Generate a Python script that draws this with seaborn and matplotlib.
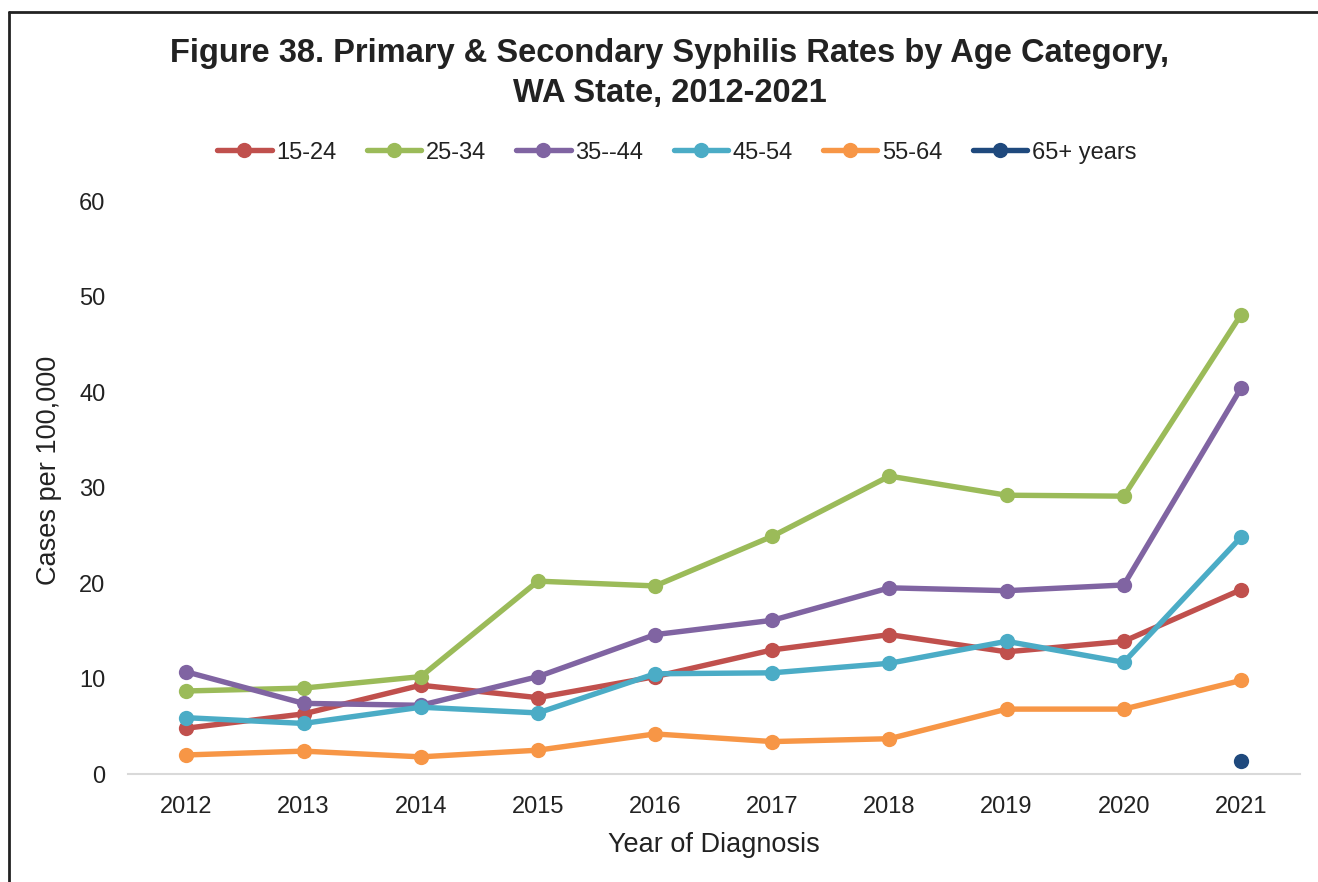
import pandas as pd
import numpy as np
import matplotlib.pyplot as plt
import matplotlib.lines as mlines
import seaborn as sns

# Dados (taxas por 100.000)
anos = [2012, 2013, 2014, 2015, 2016, 2017, 2018, 2019, 2020, 2021]
idade_15_24 = [4.8, 6.3, 9.3, 8.0, 10.2, 13.0, 14.6, 12.8, 13.9, 19.3]
idade_25_34 = [8.7, 9.0, 10.2, 20.2, 19.7, 24.9, 31.2, 29.2, 29.1, 48.1]
idade_35_44 = [10.7, 7.4, 7.2, 10.2, 14.6, 16.1, 19.5, 19.2, 19.8, 40.4]
idade_45_54 = [5.9, 5.3, 7.0, 6.4, 10.5, 10.6, 11.6, 13.9, 11.7, 24.8]
idade_55_64 = [2.0, 2.4, 1.8, 2.5, 4.2, 3.4, 3.7, 6.8, 6.8, 9.8]
idade_65_mais = [None, None, None, None, None, None, None, None, None, 1.4]

series = {
    "15-24": idade_15_24,
    "25-34": idade_25_34,
    "35--44": idade_35_44,
    "45-54": idade_45_54,
    "55-64": idade_55_64,
    "65+ years": idade_65_mais,
}
cores = ["#C0504D", "#9BBB59", "#8064A2", "#4BACC6", "#F79646", "#1F497D"]

linhas = []
for nome, valores in series.items():
    for ano, v in zip(anos, valores):
        if v is not None:
            linhas.append({"Ano": ano, "Taxa": v, "Idade": nome})
df = pd.DataFrame(linhas)

sns.set_style("white")
plt.rcParams['font.family'] = ['Liberation Sans', 'DejaVu Sans']

fig = plt.figure(figsize=(13.18, 8.82), dpi=100)
ax = fig.add_axes([0.097, 0.1224, 0.889, 0.6496])

sns.lineplot(
    data=df, x="Ano", y="Taxa", hue="Idade",
    palette=cores, marker="o", markersize=11, markeredgewidth=0,
    linewidth=3.9, dashes=False, ax=ax, legend=False,
)

ax.set_xlim(2011.5, 2021.5)
ax.set_ylim(0, 60)
ax.set_xticks(anos)
ax.set_yticks(range(0, 61, 10))
ax.tick_params(axis="x", labelsize=17, length=0, colors="#222222", pad=16)
ax.tick_params(axis="y", labelsize=17, length=0, colors="#222222", pad=16)
for s in ["top", "right", "left"]:
    ax.spines[s].set_visible(False)
ax.spines["bottom"].set_color("#D9D9D9")
ax.spines["bottom"].set_linewidth(1.5)

ax.set_xlabel("Year of Diagnosis", fontsize=19.5, color="#222222", labelpad=10)
ax.set_ylabel("Cases per 100,000", fontsize=19.5, color="#222222")
ax.yaxis.set_label_coords(-0.056, 0.53)

# Legenda no topo
handles = [mlines.Line2D([], [], color=c, marker="o", markersize=11,
                         linewidth=3.9, markeredgewidth=0) for c in cores]
ax.legend(handles, list(series.keys()), loc="center", bbox_to_anchor=(0.5135, 0.827),
          bbox_transform=fig.transFigure, ncol=6, frameon=False, fontsize=17,
          handlelength=2.3, handletextpad=0.2, columnspacing=1.28, labelcolor="#222222")

fig.text(0.508, 0.939, "Figure 38. Primary & Secondary Syphilis Rates by Age Category,",
         ha="center", va="center", fontsize=23.5, weight="bold", color="#222222")
fig.text(0.508, 0.894, "WA State, 2012-2021",
         ha="center", va="center", fontsize=23.5, weight="bold", color="#222222")

# Moldura (cortada à direita e embaixo)
fig.add_artist(mlines.Line2D([9 / 1318, 1.0], [1 - 12 / 882, 1 - 12 / 882],
                             transform=fig.transFigure, color="#222222", linewidth=2))
fig.add_artist(mlines.Line2D([9 / 1318, 9 / 1318], [0, 1 - 12 / 882],
                             transform=fig.transFigure, color="#222222", linewidth=2))

fig.savefig("out.png", dpi=100)
